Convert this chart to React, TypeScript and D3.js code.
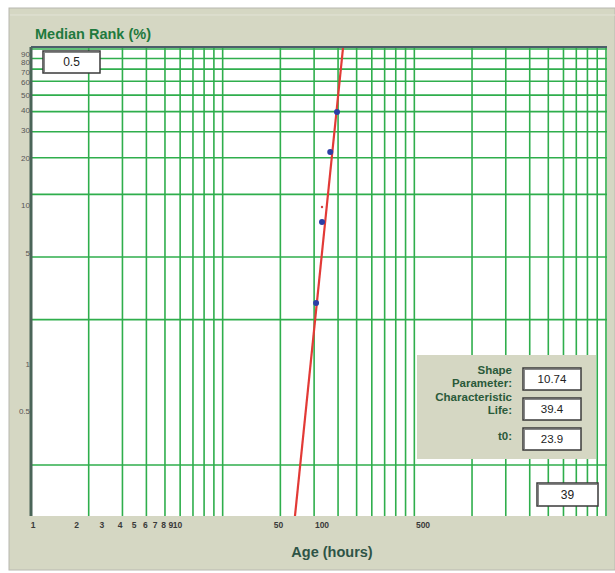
import React from 'react';
import * as d3 from 'd3';

// ---- data ----
const xTickLabels = [1, 2, 3, 4, 5, 6, 7, 8, 9, 10, 50, 100, 500];
const yTickLabels = [0.5, 1, 5, 10, 20, 30, 40, 50, 60, 70, 80, 90];
const xGridValues = [1, 2, 3, 4, 5, 6, 7, 8, 9, 10, 20, 30, 40, 50, 60, 70, 80, 90, 100, 200, 300, 400, 500, 600, 700, 800, 900, 1000];
const yGridValues = [0.1, 0.5, 1, 2, 3, 4, 5, 6, 7, 8, 9, 10];
const pointAges = [91, 100, 114, 127];
const pointRanks = [2.42, 7.85, 21.7, 38.8];
const markAges = [100];
const markRanks = [9.75];
const fitAges = [65, 140];
const fitRanks = [0.109, 100];
const paramLabels = [['Shape', 'Parameter:'], ['Characteristic', 'Life:'], ['t0:']];
const paramValues = ['10.74', '39.4', '23.9'];
const topValue = '0.5';
const bottomValue = '39';

const W = 615, H = 573;
const PL = 31, PR = 607, PT = 47, PB = 516;
const BG = '#d5d7c3';
const GRID = '#2fae4c';

export default function App() {
  const xGrid = d3.scaleLog().domain([1, 1000]).range([PL, 606]);
  const xLabel = d3.scaleLog().domain([1, 1000]).range([33, 466.5]);
  const yGrid = d3.scaleLog().domain([0.1, 10]).range([465, 49]);
  const yLabel = d3.scaleLog().domain([0.1, 100]).range([522, 47]);

  const fitData = fitAges.map((a, i) => [a, fitRanks[i]] as [number, number]);
  const line = d3.line<[number, number]>().x(d => xLabel(d[0])).y(d => yLabel(d[1]));

  const font = 'Liberation Sans, Arial, sans-serif';

  const Box = ({ x, y, w, h, text, size = 12 }: any) => (
    <g>
      <rect x={x} y={y} width={w} height={h} fill="#fff" stroke="#3a3a3a" strokeWidth={1.5} />
      <line x1={x + 1} y1={y + 1.5} x2={x + w - 1} y2={y + 1.5} stroke="#888" strokeWidth={1} />
      <line x1={x + 1.5} y1={y + 1} x2={x + 1.5} y2={y + h - 1} stroke="#888" strokeWidth={1} />
      <text x={x + w / 2} y={y + h / 2 + size * 0.36} textAnchor="middle" fontSize={size} fontFamily={font} fill="#222">{text}</text>
    </g>
  );

  return (
    <svg width={W} height={H} style={{ position: 'absolute', left: 0, top: 0 }}>
      <rect x={0} y={0} width={W} height={H} fill="#ffffff" />
      <rect x={9} y={8} width={W - 9} height={562} fill={BG} stroke="#b8b8b0" strokeWidth={1} />
      <line x1={10} y1={15} x2={W} y2={15} stroke="#e2e3d6" strokeWidth={1} />

      <text x={35} y={39} fontSize={14.5} fontWeight="bold" fontFamily={font} fill="#1f7a3e">Median Rank (%)</text>

      <defs>
        <clipPath id="plotClip">
          <rect x={PL} y={PT} width={PR - PL} height={PB - PT} />
        </clipPath>
      </defs>

      <rect x={PL} y={PT} width={PR - PL} height={PB - PT} fill="#ffffff" />

      <g clipPath="url(#plotClip)">
        {xGridValues.map(v => (
          <line key={'xg' + v} x1={xGrid(v)} x2={xGrid(v)} y1={PT} y2={PB} stroke={GRID} strokeWidth={1.6} />
        ))}
        {yGridValues.map(v => (
          <line key={'yg' + v} x1={PL} x2={PR} y1={yGrid(v)} y2={yGrid(v)} stroke={GRID} strokeWidth={1.6} />
        ))}
        <path d={line(fitData) || ''} stroke="#e23a36" strokeWidth={2.2} fill="none" />
        {pointAges.map((a, i) => (
          <circle key={'p' + i} cx={xLabel(a)} cy={yLabel(pointRanks[i])} r={3} fill="#2b3fa6" />
        ))}
        {markAges.map((a, i) => (
          <circle key={'m' + i} cx={xLabel(a)} cy={yLabel(markRanks[i])} r={1.2} fill="#d04040" />
        ))}
      </g>

      {/* plot frame */}
      <line x1={PL} x2={PR} y1={PT} y2={PT} stroke="#4d5d6a" strokeWidth={2} />
      <line x1={PL} x2={PL} y1={PT} y2={PB} stroke="#4a6558" strokeWidth={3} />

      {/* y tick labels */}
      {yTickLabels.map(v => (
        <text key={'yl' + v} x={30} y={yLabel(v) + 3} textAnchor="end" fontSize={8} fontFamily={font} fill="#555">{v}</text>
      ))}

      {/* x tick labels */}
      {xTickLabels.map(v => (
        <text key={'xl' + v} x={xLabel(v)} y={528} textAnchor="middle" fontSize={8.5} fontWeight="bold" fontFamily={font} fill="#3a3a3a">{v}</text>
      ))}

      <text x={332} y={557} textAnchor="middle" fontSize={14.5} fontWeight="bold" fontFamily={font} fill="#2e5446">Age (hours)</text>

      {/* parameter panel */}
      <rect x={417} y={355} width={179} height={104} fill={BG} />
      {paramLabels.map((lines, i) => (
        <text key={'pl' + i} textAnchor="end" fontSize={11.5} fontWeight="bold" fontFamily={font} fill="#2a5a3a">
          {lines.map((t, j) => (
            <tspan key={j} x={512} y={(i === 2 ? 440 : 374 + i * 27) + j * 13}>{t}</tspan>
          ))}
        </text>
      ))}
      {paramValues.map((v, i) => (
        <Box key={'pv' + i} x={523} y={368 + i * 30} w={58} h={22} text={v} size={11.5} />
      ))}

      <Box x={43} y={51} w={57} h={22} text={topValue} size={12} />
      <Box x={537} y={483} w={61} h={23} text={bottomValue} size={12} />
    </svg>
  );
}
